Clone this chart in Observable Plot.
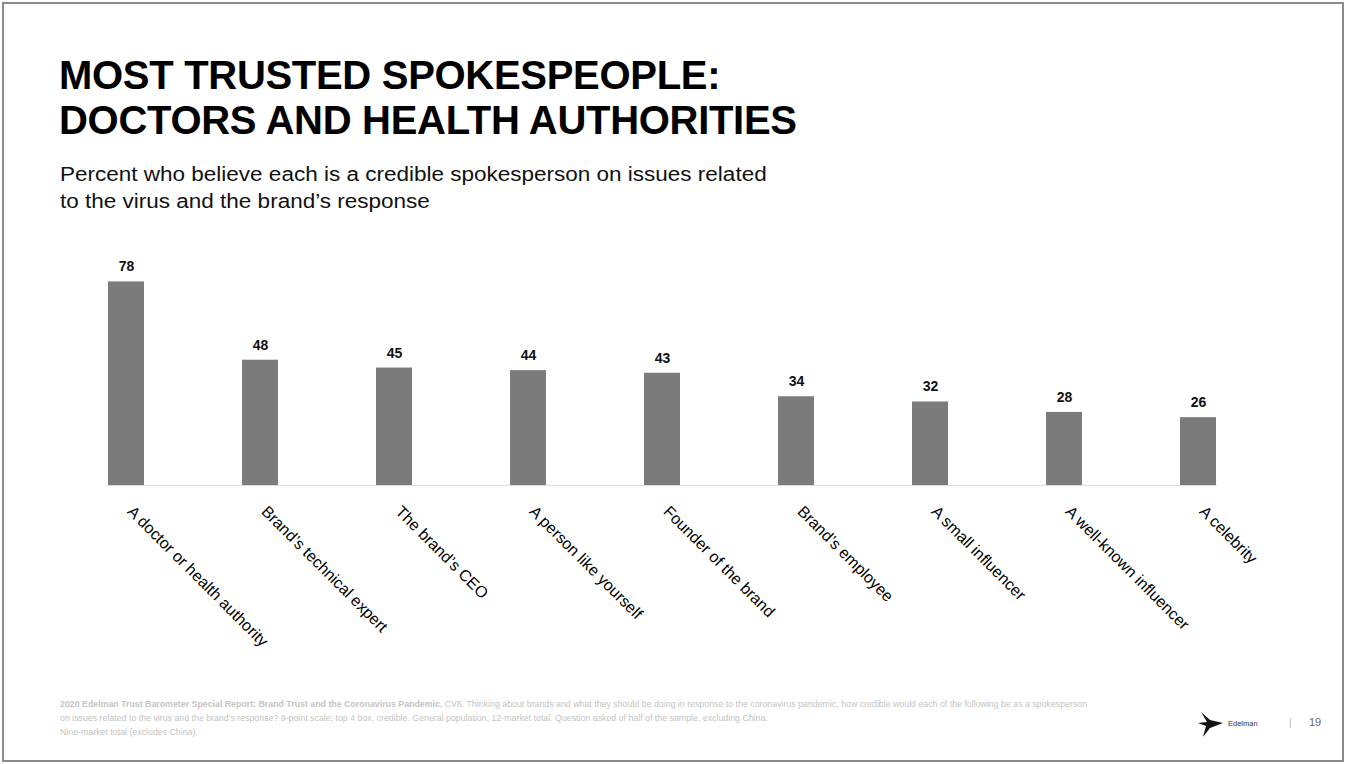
<!DOCTYPE html>
<html>
<head>
<meta charset="utf-8">
<script src="https://cdn.jsdelivr.net/npm/d3@7"></script>
<script src="https://cdn.jsdelivr.net/npm/@observablehq/plot@0.6"></script>
<style>
  html, body { margin: 0; padding: 0; background: #fff; }
  #page { position: relative; width: 1347px; height: 764px; overflow: hidden; background: #fff; font-family: "Liberation Sans", Arial, sans-serif; }
  #frame { position: absolute; left: 2px; top: 2px; width: 1338px; height: 756px; border: 2px solid #8a8a8a; box-sizing: content-box; }
  #title { position: absolute; left: 59px; top: 53px; font-size: 40px; line-height: 45px; font-weight: bold; color: #000; letter-spacing: -0.3px; }
  #subtitle { position: absolute; left: 60px; top: 161px; font-size: 20px; line-height: 27px; color: #111; transform: scaleX(1.125); transform-origin: 0 0; white-space: nowrap; }
  #chart { position: absolute; left: 0; top: 220px; }
  #source { position: absolute; left: 60px; top: 697px; width: 1100px; font-size: 8.8px; line-height: 14px; color: #c4c4c4; white-space: nowrap; }
  #logo { position: absolute; left: 1198px; top: 711px; }
  #brand { position: absolute; left: 1228px; top: 719px; font-size: 7.5px; color: #333; }
  #sep { position: absolute; left: 1289px; top: 717px; font-size: 10px; color: #bbb; }
  #pagenum { position: absolute; left: 1309px; top: 716px; font-size: 11px; color: #666; }
</style>
</head>
<body>
<div id="page">
  <div id="frame"></div>
  <div id="title">MOST TRUSTED SPOKESPEOPLE:<br>DOCTORS AND HEALTH AUTHORITIES</div>
  <div id="subtitle">Percent who believe each is a credible spokesperson on issues related<br>to the virus and the brand’s response</div>
  <div id="chart"></div>
  <div id="source"><b>2020 Edelman Trust Barometer Special Report: Brand Trust and the Coronavirus Pandemic.</b> CV6. Thinking about brands and what they should be doing in response to the coronavirus pandemic, how credible would each of the following be as a spokesperson<br>on issues related to the virus and the brand's response? 9-point scale; top 4 box, credible. General population, 12-market total. Question asked of half of the sample, excluding China.<br>Nine-market total (excludes China).</div>
  <svg id="logo" width="26" height="27" viewBox="0 0 26 27"><path d="M3 1 L12 9 L25 12 L12 17 L5 26 L8 15 L0 12 L9 11 Z" fill="#111"/></svg>
  <div id="brand">Edelman</div>
  <div id="sep">|</div>
  <div id="pagenum">19</div>
</div>
<script>
const categories = [
  "A doctor or health authority",
  "Brand’s technical expert",
  "The brand’s CEO",
  "A person like yourself",
  "Founder of the brand",
  "Brand’s employee",
  "A small influencer",
  "A well-known influencer",
  "A celebrity"
];
const values = [78, 48, 45, 44, 43, 34, 32, 28, 26];

const data = categories.map((name, i) => ({name, value: values[i]}));

const chart = Plot.plot({
  width: 1347,
  height: 455,
  marginTop: 4,
  marginBottom: 190,
  marginLeft: 107,
  marginRight: 130,
  style: { fontFamily: "Liberation Sans, Arial, sans-serif", background: "transparent", overflow: "visible" },
  x: { domain: categories, paddingInner: 0.732, paddingOuter: 0, axis: null },
  y: { domain: [0, 100], axis: null },
  marks: [
    Plot.ruleY([0], { stroke: "#dcdcdc", strokeWidth: 1 }),
    Plot.barY(data, { x: "name", y: "value", fill: "#7b7b7b" }),
    Plot.text(data, { x: "name", y: "value", text: d => String(d.value), dy: -15, fontSize: 14, fontWeight: "bold", fill: "#111" }),
    Plot.text(categories, { x: d => d, frameAnchor: "bottom", text: d => d, rotate: 45, textAnchor: "start", dx: 0, dy: 27, fontSize: 16, fill: "#000" })
  ]
});
document.getElementById("chart").appendChild(chart);
</script>
</body>
</html>
